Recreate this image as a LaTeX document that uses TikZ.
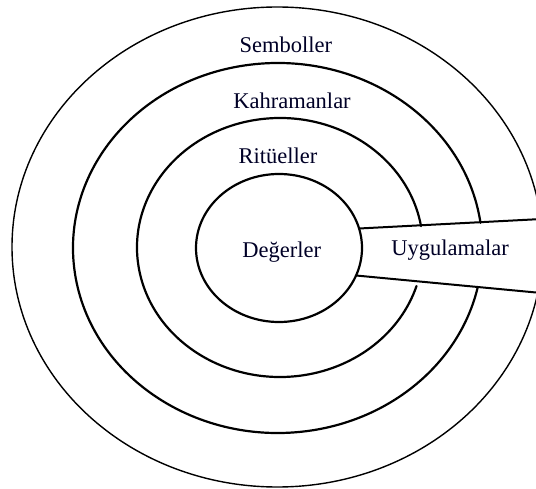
\documentclass[tikz,border=0pt]{standalone}
\usepackage{fontspec}
\setmainfont{Liberation Serif}
\begin{document}
\begin{tikzpicture}[x=1pt,y=1pt,
  ring/.style={line width=2.2pt, line cap=round},
  outerring/.style={line width=1.4pt},
  wedge/.style={line width=2pt},
  lbl/.style={anchor=base, inner sep=0pt, text=black!85!blue, font=\fontsize{22.5}{27}\selectfont}]
\useasboundingbox (0,0) rectangle (536,488);
\clip (0,0) rectangle (536,488);
% outer ring (Semboller)
\draw[outerring] (277.3,241) ellipse [x radius=265.3, y radius=240];
% second ring (Kahramanlar), open at the wedge
\draw[ring] (277.7,240) ++(7.8:204.7 and 185) arc [start angle=7.8, end angle=347.8, x radius=204.7, y radius=185];
% third ring (Ritüeller), open at the wedge
\draw[ring] (280,240.5) ++(9.5:143 and 129.5) arc [start angle=9.5, end angle=342.7, x radius=143, y radius=129.5];
% inner ring (Değerler)
\draw[ring] (279,240) ellipse [x radius=83, y radius=74];
% wedge (Uygulamalar)
\coordinate (wt0) at (359,259.5);
\coordinate (wt1) at (536,268.7);
\coordinate (wb0) at (356,212.5);
\coordinate (wb1) at (536,195.5);
\draw[wedge] (wt0) -- (wt1);
\draw[wedge] (wb0) -- (wb1);
% labels
\node[lbl] (semb) at (285.8,435.3) {Semboller};
\node[lbl] (kahr) at (292,379.7) {Kahramanlar};
\node[lbl] (ritu) at (278,324.7) {Ritüeller};
\node[lbl] (deger) at (281.7,230.7) {Değerler};
\node[lbl] (uygu) at (450,232) {Uygulamalar};
\end{tikzpicture}
\end{document}
